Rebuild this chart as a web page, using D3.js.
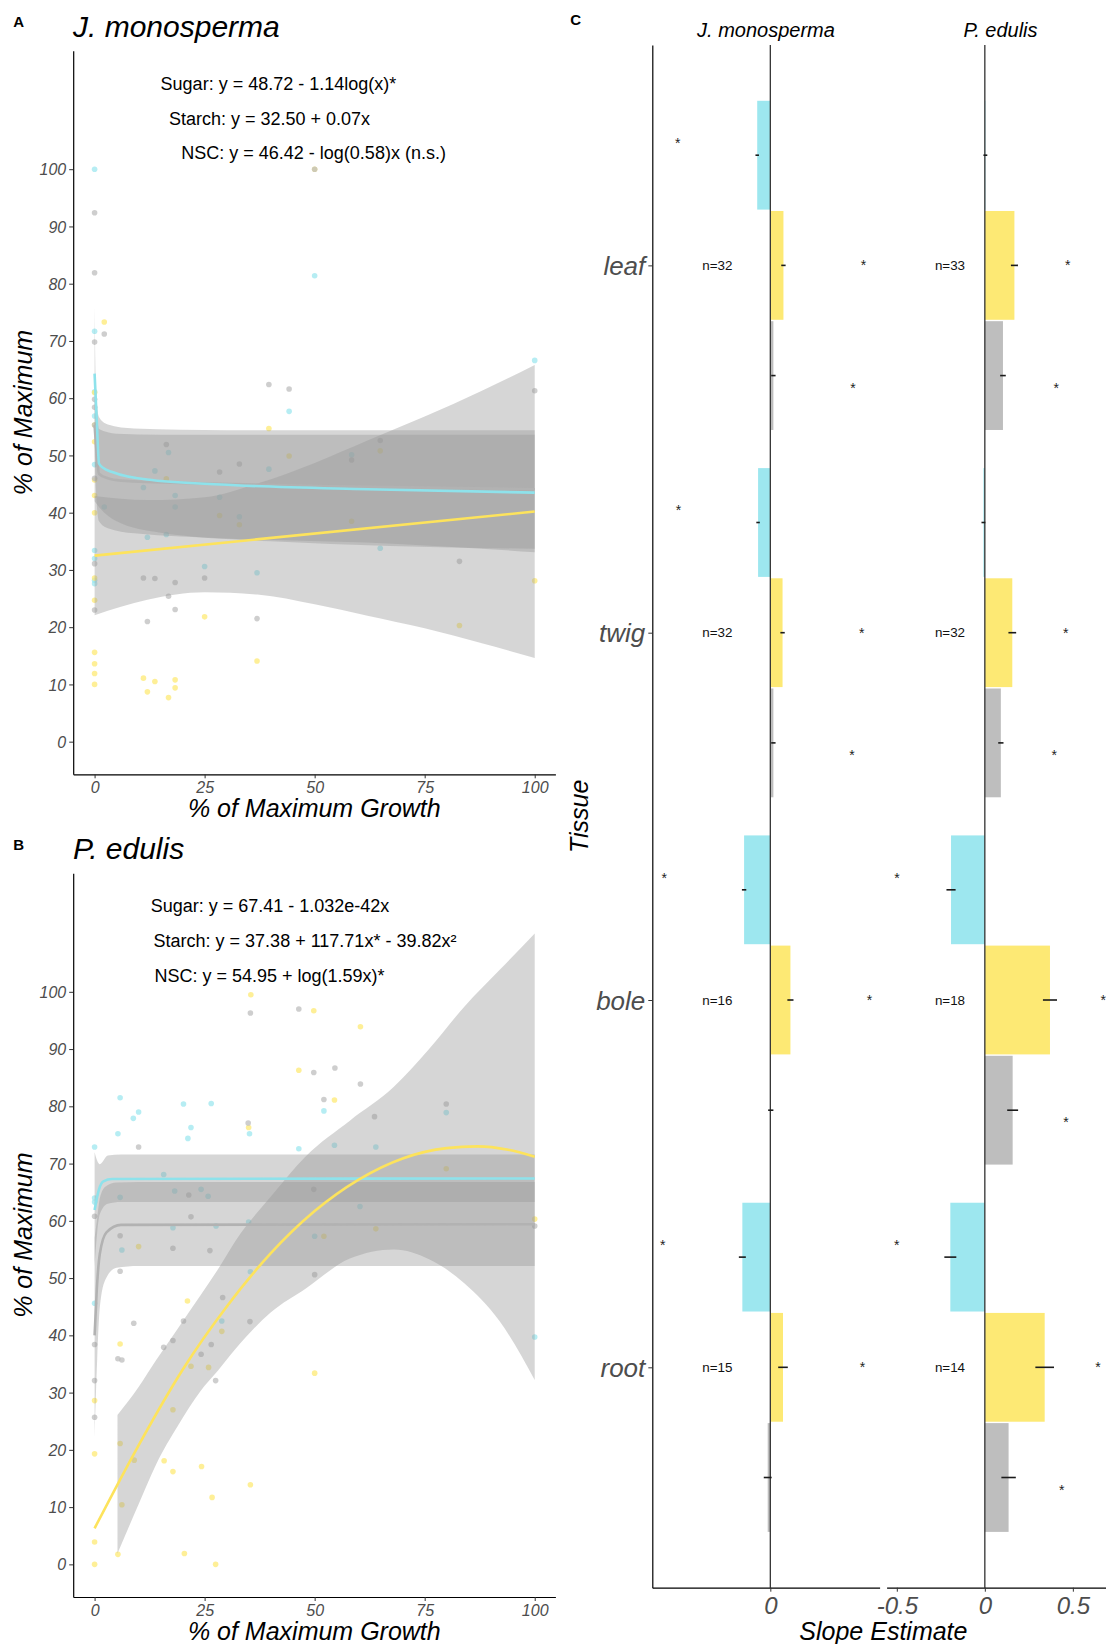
<!DOCTYPE html>
<html>
<head>
<meta charset="utf-8">
<script src="https://cdn.jsdelivr.net/npm/d3@7"></script>
<style>
  body { margin: 0; background: #fff; }
  svg { display: block; font-family: "Liberation Sans", Arial, sans-serif; }
</style>
</head>
<body>
<svg id="fig" width="1106" height="1644"></svg>
<script>
// ---------- data: panels A and B (x = % of max growth, y = % of maximum) ----------
const sugarPtsA = [[0,100],[0,71.7],[0,61.1],[0,56.9],[0,48.4],[0,33.4],[0,32],[0,28.2],[0,27.6],[2.2,41],[50,81.4],[100,66.6],[44.2,57.7],[16.8,50.5],[13.7,47.3],[11.1,44.4],[18.3,43],[18.3,41],[28.4,42.7],[32.9,39.3],[12,35.7],[16.3,36.2],[25,30.6],[36.9,29.5],[39.6,47.6],[58.4,50.1],[64.9,33.8]];
const starchPtsA = [[0,61],[0,55.3],[0,52.4],[0,45.7],[0,43],[0,40],[0,28.6],[0,24.7],[0,15.6],[0,13.6],[0,11.9],[0,10],[2.2,73.3],[50,100],[16.3,45.9],[28.4,39.5],[32.9,37.9],[25,21.8],[36.9,14.1],[11.1,11.1],[13.7,10.5],[18.3,10.8],[12,8.7],[18.3,9.4],[16.8,7.7],[39.6,54.7],[44.2,49.9],[58.4,38.5],[64.9,50.8],[82.9,20.3],[100,28.1]];
const nscPtsA = [[0,92.4],[0,81.9],[2.2,71.2],[0,69.8],[0,59.8],[0,58.4],[0,55.3],[0,46],[0,31.1],[0,23],[50,100],[100,61.3],[39.6,62.4],[44.2,61.6],[16.3,51.9],[28.4,47.1],[32.9,48.5],[25,28.6],[11.1,28.6],[13.7,28.5],[18.3,27.8],[16.8,25.4],[18.3,23.1],[12,21],[36.9,21.5],[58.4,49.2],[64.9,52.6],[82.9,31.5]];

const sugarLineA = [[0,64.3],[0.5,56],[1,48.6],[2,47.8],[4,47.1],[13,45.7],[32,44.8],[62,44.1],[100,43.5]];
const starchLineA = [[0,32.5],[100,40.2]];
const nscLineA = [[0,55.3],[0.5,50],[1,46.8],[3,46],[6,45.6],[25,45.1],[55,44.6],[100,44.1]];
// bands: [x, lower, upper]
const sugarBandA = [[0,51,76.2],[0.3,44,62],[1,38.5,56.7],[3,37.3,55.4],[9,36.4,54.7],[30,35.5,54.4],[70,34.5,54.4],[100,33.1,54.4]];
const starchBandA = [[0,22.1,42.9],[12,24.8,42.2],[25,26.1,42.7],[37,25.7,45.1],[50,24,48.7],[62,22,52.6],[75,19.8,56.8],[88,17.2,61.3],[100,14.6,65.8]];
const nscBandA = [[0,42,60],[0.5,41.5,57],[1,41,54.6],[5,38.5,53.8],[15,36.5,53.6],[40,35,53.6],[100,33.7,53.6]];

const sugarPtsB = [[0,72.9],[5.8,81.5],[5.3,75.2],[8.8,77.9],[10,79],[20.2,80.4],[21.9,76.3],[21.2,74.4],[26.5,80.5],[35.2,75.2],[52.1,79.2],[46.4,72.6],[54.5,73.2],[63.9,72.9],[79.9,78.9],[15.7,68.1],[18.2,65.2],[24.2,65.5],[25.8,64.3],[5.8,64.1],[0,64],[0,63.3],[60.3,62.5],[17.8,58.8],[27.6,59.1],[35,59.8],[50,57.3],[6.2,54.9],[35.4,51.1],[0,45.6],[28.9,42.5],[100,39.7]];
const starchPtsB = [[35.5,99.5],[35,76.3],[49.8,96.7],[46.4,86.3],[54.5,81.1],[60.4,93.9],[79.9,69.1],[63.9,58.6],[52.1,57.3],[100,60.3],[10,55.5],[21.1,46],[28.9,40.7],[5.8,38.5],[21.9,34.6],[25.9,34.4],[50,33.4],[0,28.6],[17.8,27],[5.8,21.1],[0,19.3],[9,18.2],[15.8,18.1],[17.8,16.2],[24.3,17.1],[35.4,13.9],[26.7,11.7],[6.2,10.4],[0,3.9],[5.3,1.75],[20.4,1.9],[0,0],[27.5,0]];
const nscPtsB = [[35.4,96.3],[46.4,97],[49.8,85.9],[54.6,86.7],[52.1,81.2],[60.4,83.9],[63.6,78.2],[79.9,80.4],[34.9,77.1],[10,72.9],[49.8,65.5],[21.4,64.5],[21.9,60.7],[0,60.8],[5.8,57.4],[100,59.1],[17.8,55.2],[26.2,54.8],[5.8,51.2],[50,50.6],[29.1,46.6],[20.2,42.5],[35.3,42.4],[8.9,42.1],[0,38.4],[15.7,37.9],[17.8,39.1],[24.2,36.7],[26.5,38.4],[5.3,35.9],[6.2,35.7],[27.5,32.1],[0,32.1],[0,25.7]];

const sugarLineB = [[0,61.9],[1,65.5],[2,66.9],[4,67.3],[100,67.4]];
const starchLineB = [[0,6.3],[10,20.8],[20,34],[30,45],[40,54.3],[50,61.7],[60,67.2],[70,70.9],[80,72.7],[87,73],[94,72.4],[100,71.2]];
const nscLineB = [[0,40],[0.5,48],[1.2,54.3],[2.7,58],[6,59.3],[100,59.4]];
const sugarBandB = [[0,52,72],[0.6,58,70.5],[1.2,61.2,69.9],[3,63,71.4],[6,63.3,71.6],[100,63.3,71.6]];
const starchBandB = [[5.2,1.9,26.1],[10,10.5,31],[14,17.5,35.7],[19,24.3,41.3],[24,30.2,46.9],[28,33.8,51.5],[32,37.6,56.5],[40,44,64.2],[48,48.2,71.3],[58,53.4,77.5],[68,55,83.4],[76,53.3,90],[84,49.1,97.4],[92,42.5,103.8],[100,32.2,110.2]];
const nscBandB = [[0,22,57],[0.6,36,60.5],[1.2,45,64],[2.5,49.8,66],[5,51.8,66.7],[10,52.1,66.8],[100,52.1,66.8]];

const eqA = ["Sugar: y = 48.72 - 1.14log(x)*", "Starch: y = 32.50 + 0.07x", "NSC: y = 46.42 - log(0.58)x (n.s.)"];
const eqB = ["Sugar: y = 67.41 - 1.032e-42x", "Starch: y = 37.38 + 117.71x* - 39.82x\u00B2", "NSC: y = 54.95 + log(1.59x)*"];
const xTicks = [0, 25, 50, 75, 100];
const yTicks = [0, 10, 20, 30, 40, 50, 60, 70, 80, 90, 100];

// ---------- data: panel C (slope estimates) ----------
const tissues = ["leaf", "twig", "bole", "root"];
const sugarJ = [-0.030, -0.028, -0.060, -0.064];
const starchJ = [0.030, 0.028, 0.046, 0.029];
const nscJ = [0.007, 0.007, 0.001, -0.006];
const sugarSeJ = [0.004, 0.004, 0.005, 0.008];
const starchSeJ = [0.005, 0.005, 0.007, 0.011];
const nscSeJ = [0.005, 0.005, 0.006, 0.009];
const sugarStarJ = [-0.212, -0.210, -0.243, -0.246];
const starchStarJ = [0.213, 0.209, 0.227, 0.211];
const nscStarJ = [0.189, 0.187, null, null];
const nJ = [32, 32, 16, 15];

const sugarP = [0.003, -0.008, -0.192, -0.196];
const starchP = [0.168, 0.156, 0.370, 0.340];
const nscP = [0.103, 0.091, 0.158, 0.135];
const sugarSeP = [0.011, 0.011, 0.026, 0.034];
const starchSeP = [0.020, 0.022, 0.040, 0.053];
const nscSeP = [0.016, 0.015, 0.031, 0.041];
const sugarStarP = [null, null, -0.499, -0.501];
const starchStarP = [0.471, 0.459, 0.673, 0.643];
const nscStarP = [0.406, 0.394, 0.461, 0.437];
const nP = [33, 32, 18, 14];
const slopeTicks = [-0.5, 0, 0.5];

// ---------- styles ----------
const fills = { sugar: "#9de7ef", starch: "#fde974", nsc: "#bebebe" };
const lineCols = { sugar: "#8ee2eb", starch: "#fde35c", nsc: "#b2b2b2" };
const tickGrey = "#4d4d4d";

const svg = d3.select("#fig");
svg.append("rect").attr("width", 1106).attr("height", 1644).attr("fill", "#fff");

const styleAxis = (g) => {
    g.select(".domain").attr("stroke", "#000").attr("stroke-width", 1.2);
    g.selectAll(".tick line").attr("stroke", "#333").attr("stroke-width", 1);
    g.selectAll(".tick text").attr("fill", tickGrey).attr("font-style", "italic");
};

// ---------- scatter panels ----------
const scatterPanel = (cfg) => {
    const x = d3.scaleLinear().domain([-4.86, 104.7]).range([73.2, 555.4]);
    const y = d3.scaleLinear().domain([-5.7, 120.7]).range([cfg.bottom, cfg.top]);
    const g = svg.append("g");

    g.append("clipPath").attr("id", cfg.id + "clip")
        .append("rect").attr("x", 73.2).attr("y", cfg.top)
        .attr("width", 555.4 - 73.2).attr("height", cfg.bottom - cfg.top);
    const plot = g.append("g").attr("clip-path", `url(#${cfg.id}clip)`);

    // points
    ["sugar", "starch", "nsc"].forEach(s => {
        plot.append("g").selectAll("circle").data(cfg.pts[s]).join("circle")
            .attr("cx", d => x(d[0])).attr("cy", d => y(d[1])).attr("r", 2.8)
            .attr("fill", fills[s]).attr("fill-opacity", 0.75);
    });

    // confidence ribbons
    const area = d3.area().x(d => x(d[0])).y0(d => y(d[1])).y1(d => y(d[2])).curve(d3.curveMonotoneX);
    ["sugar", "starch", "nsc"].forEach(s => {
        plot.append("path").attr("d", area(cfg.bands[s]))
            .attr("fill", "#999").attr("fill-opacity", 0.4);
    });

    // fitted lines
    const line = d3.line().x(d => x(d[0])).y(d => y(d[1])).curve(d3.curveMonotoneX);
    ["nsc", "sugar", "starch"].forEach(s => {
        plot.append("path").attr("d", line(cfg.lines[s]))
            .attr("fill", "none").attr("stroke", lineCols[s]).attr("stroke-width", 2.6);
    });

    // axes
    const ax = g.append("g").attr("transform", `translate(0,${cfg.bottom})`)
        .call(d3.axisBottom(x).tickValues(xTicks).tickSize(4).tickSizeOuter(0));
    styleAxis(ax);
    ax.selectAll(".tick text").attr("y", 13).attr("dy", "0.35em").attr("font-size", 16);

    const ay = g.append("g").attr("transform", "translate(73.2,0)")
        .call(d3.axisLeft(y).tickValues(yTicks).tickSize(4).tickSizeOuter(0));
    styleAxis(ay);
    ay.selectAll(".tick text").attr("x", -7).attr("dy", "0.35em").attr("font-size", 16);

    // titles
    g.append("text").attr("x", 18.6).attr("y", cfg.top - 29).attr("dy", "0.35em")
        .attr("text-anchor", "middle").attr("font-weight", "bold").attr("font-size", 15).text(cfg.letter);
    g.append("text").attr("x", 73).attr("y", cfg.top - 14)
        .attr("font-style", "italic").attr("font-size", 30).text(cfg.title);
    g.append("text").attr("x", 314.3).attr("y", cfg.bottom + 34).attr("dy", "0.35em")
        .attr("text-anchor", "middle").attr("font-style", "italic").attr("font-size", 25)
        .text("% of Maximum Growth");
    g.append("text").attr("transform", `translate(23,${(cfg.top + cfg.bottom) / 2}) rotate(-90)`)
        .attr("dy", "0.35em").attr("text-anchor", "middle").attr("font-style", "italic")
        .attr("font-size", 25).text("% of Maximum");

    // equations
    cfg.eq.forEach((t, i) => {
        g.append("text").attr("x", x(cfg.eqX[i])).attr("y", y(115 - i * 6.1))
            .attr("dy", "0.35em").attr("font-size", 18).text(t);
    });
};

scatterPanel({
    id: "A", letter: "A", title: "J. monosperma", top: 50.7, bottom: 774.3,
    pts: { sugar: sugarPtsA, starch: starchPtsA, nsc: nscPtsA },
    lines: { sugar: sugarLineA, starch: starchLineA, nsc: nscLineA },
    bands: { sugar: sugarBandA, starch: starchBandA, nsc: nscBandA },
    eq: eqA, eqX: [15.0, 16.9, 19.7]
});
scatterPanel({
    id: "B", letter: "B", title: "P. edulis", top: 873.3, bottom: 1597,
    pts: { sugar: sugarPtsB, starch: starchPtsB, nsc: nscPtsB },
    lines: { sugar: sugarLineB, starch: starchLineB, nsc: nscLineB },
    bands: { sugar: sugarBandB, starch: starchBandB, nsc: nscBandB },
    eq: eqB, eqX: [12.75, 13.4, 13.6]
});

// ---------- panel C ----------
const cTop = 45, cBottom = 1587.7;
const yCat = d3.scalePoint().domain(tissues).range([cTop, cBottom]).padding(0.6);
const step = yCat.step();
const barOff = { sugar: -0.3, starch: 0, nsc: 0.3 };
const starOff = { sugar: -1 / 3, starch: 0, nsc: 1 / 3 };

const facets = [
    {
        title: "J. monosperma", x: d3.scaleLinear().domain([-0.27, 0.25]).range([652.3, 879.6]),
        vals: { sugar: sugarJ, starch: starchJ, nsc: nscJ },
        se: { sugar: sugarSeJ, starch: starchSeJ, nsc: nscSeJ },
        star: { sugar: sugarStarJ, starch: starchStarJ, nsc: nscStarJ },
        n: nJ, nX: -0.121
    },
    {
        title: "P. edulis", x: d3.scaleLinear().domain([-0.558, 0.736]).range([886.6, 1114.4]),
        vals: { sugar: sugarP, starch: starchP, nsc: nscP },
        se: { sugar: sugarSeP, starch: starchSeP, nsc: nscSeP },
        star: { sugar: sugarStarP, starch: starchStarP, nsc: nscStarP },
        n: nP, nX: -0.198
    }
];

const gc = svg.append("g");
facets.forEach(f => {
    const x = f.x;
    const g = gc.append("g");
    ["sugar", "starch", "nsc"].forEach(s => {
        // bars
        g.append("g").selectAll("rect").data(f.vals[s]).join("rect")
            .attr("x", d => x(Math.min(0, d)))
            .attr("width", d => Math.abs(x(d) - x(0)))
            .attr("y", (d, i) => yCat(tissues[i]) + (barOff[s] - 0.15) * step + 0.7)
            .attr("height", 0.3 * step - 1.4)
            .attr("fill", fills[s]);
    });
    // zero line
    g.append("line").attr("x1", x(0)).attr("x2", x(0)).attr("y1", cTop).attr("y2", cBottom)
        .attr("stroke", "#333").attr("stroke-width", 1.3);
    ["sugar", "starch", "nsc"].forEach(s => {
        // error bars
        g.append("g").selectAll("line").data(f.vals[s]).join("line")
            .attr("x1", (d, i) => x(d - f.se[s][i])).attr("x2", (d, i) => x(d + f.se[s][i]))
            .attr("y1", (d, i) => yCat(tissues[i]) + barOff[s] * step)
            .attr("y2", (d, i) => yCat(tissues[i]) + barOff[s] * step)
            .attr("stroke", "#1a1a1a").attr("stroke-width", 1.6);
        // significance stars
        g.append("g").selectAll("text").data(f.star[s].map((v, i) => [v, i]).filter(d => d[0] !== null)).join("text")
            .attr("x", d => x(d[0]))
            .attr("y", d => yCat(tissues[d[1]]) + starOff[s] * step + 5)
            .attr("text-anchor", "middle").attr("font-size", 14).attr("fill", "#222").text("*");
    });
    // sample sizes
    g.append("g").selectAll("text").data(f.n).join("text")
        .attr("x", x(f.nX)).attr("y", (d, i) => yCat(tissues[i])).attr("dy", "0.35em")
        .attr("text-anchor", "middle").attr("font-size", 13.4).attr("fill", "#111").text(d => "n=" + d);
    // x axis
    const [d0, d1] = x.domain();
    const ax = g.append("g").attr("transform", `translate(0,${cBottom})`)
        .call(d3.axisBottom(x).tickValues(slopeTicks.filter(t => t >= d0 && t <= d1))
            .tickFormat(d => String(d)).tickSize(4).tickSizeOuter(0));
    styleAxis(ax);
    ax.selectAll(".tick text").attr("y", 17.5).attr("dy", "0.35em").attr("font-size", 24);
    // strip title
    g.append("text").attr("x", (x.range()[0] + x.range()[1]) / 2).attr("y", 30).attr("dy", "0.35em")
        .attr("text-anchor", "middle").attr("font-style", "italic").attr("font-size", 20).text(f.title);
});

const ayc = gc.append("g").attr("transform", "translate(652.3,0)")
    .call(d3.axisLeft(yCat).tickSize(4).tickSizeOuter(0));
styleAxis(ayc);
ayc.selectAll(".tick text").attr("x", -7).attr("dy", "0.35em").attr("font-size", 26);

gc.append("text").attr("x", 575.7).attr("y", 20).attr("dy", "0.35em").attr("text-anchor", "middle")
    .attr("font-weight", "bold").attr("font-size", 15).text("C");
gc.append("text").attr("transform", `translate(579.7,${(cTop + cBottom) / 2}) rotate(-90)`)
    .attr("dy", "0.35em").attr("text-anchor", "middle").attr("font-style", "italic")
    .attr("font-size", 25).text("Tissue");
gc.append("text").attr("x", 883.4).attr("y", 1631).attr("dy", "0.35em").attr("text-anchor", "middle")
    .attr("font-style", "italic").attr("font-size", 25).text("Slope Estimate");
</script>
</body>
</html>
